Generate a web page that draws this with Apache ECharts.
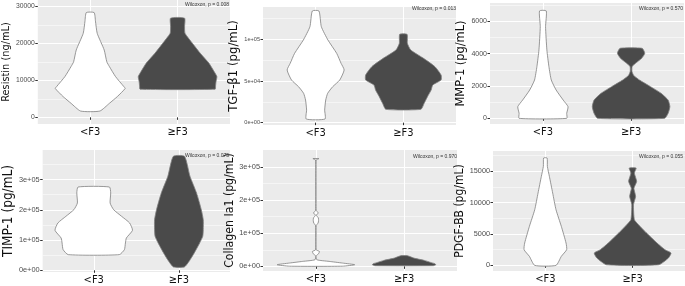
<!DOCTYPE html>
<html>
<head>
<meta charset="utf-8">
<script src="https://cdn.jsdelivr.net/npm/echarts@6/dist/echarts.min.js"></script>
<style>
  html, body { margin: 0; padding: 0; background: #fff; }
  #chart { width: 685px; height: 286px; }
</style>
</head>
<body>
<div id="chart"></div>
<script>
var groups = ["<F3", "≥F3"];

// violin outlines: [value, half width in category units]
var resistinLow = [[28300, 0.045], [26000, 0.06], [22700, 0.08], [18200, 0.16], [15000, 0.19], [13700, 0.22], [11000, 0.29], [8300, 0.385], [7800, 0.4], [5600, 0.31], [3800, 0.22], [1700, 0.11]];
var resistinHigh = [[26800, 0.08], [24500, 0.08], [22700, 0.085], [20000, 0.17], [17300, 0.26], [14600, 0.36], [12300, 0.42], [11000, 0.45], [9600, 0.44], [8500, 0.435], [7600, 0.43]];

var tgfLow = [[134000, 0.038], [115200, 0.065], [99200, 0.14], [83200, 0.24], [71200, 0.29], [63200, 0.325], [51200, 0.275], [43200, 0.195], [35200, 0.137], [27200, 0.115], [15200, 0.103], [4400, 0.107]];
var tgfHigh = [[106000, 0.042], [95200, 0.046], [87200, 0.084], [77200, 0.23], [67200, 0.36], [57200, 0.43], [51200, 0.43], [45200, 0.335], [39200, 0.317], [31200, 0.275], [23200, 0.237], [16000, 0.2]];

var mmpLow = [[6640, 0.038], [5670, 0.03], [4230, 0.045], [3200, 0.068], [2370, 0.095], [1750, 0.15], [1130, 0.23], [720, 0.285], [310, 0.27], [0, 0.27]];
var mmpHigh = [[4330, 0.125], [4020, 0.155], [3710, 0.12], [3400, 0.05], [3200, 0.012], [2900, 0.01], [2650, 0.03], [2370, 0.095], [1960, 0.22], [1550, 0.34], [1130, 0.42], [720, 0.44], [310, 0.42], [0, 0.38]];

var timpLow = [[275600, 0.184], [255800, 0.199], [222700, 0.192], [200700, 0.233], [178600, 0.327], [156600, 0.421], [132300, 0.455], [106900, 0.383], [90400, 0.372], [68400, 0.36], [51800, 0.3]];
var timpHigh = [[377000, 0.066], [311000, 0.13], [255800, 0.207], [200700, 0.263], [167600, 0.286], [134500, 0.286], [112500, 0.28], [90400, 0.244], [57300, 0.18], [29800, 0.12], [11000, 0.064]];

var collagenLow = [[325000, 0.034], [321000, 0.004], [168000, 0.004], [161000, 0.03], [155000, 0.004], [146000, 0.028], [138000, 0.03], [130000, 0.024], [124000, 0.004], [50000, 0.004], [45000, 0.04], [38000, 0.03], [32000, 0.004], [20000, 0.01], [15000, 0.15], [10000, 0.3], [5000, 0.44], [500, 0.3]];
var collagenHigh = [[32000, 0.04], [25000, 0.11], [18000, 0.23], [12000, 0.3], [8000, 0.35], [5000, 0.36], [2000, 0.33]];

var pdgfLow = [[17130, 0.02], [15800, 0.023], [14200, 0.046], [11540, 0.084], [8880, 0.122], [6220, 0.183], [3560, 0.237], [2500, 0.244], [1440, 0.183], [0, 0.122]];
var pdgfHigh = [[15530, 0.04], [14730, 0.02], [13400, 0.046], [12300, 0.015], [11000, 0.034], [9700, 0.01], [7290, 0.02], [6500, 0.067], [5160, 0.16], [3560, 0.28], [2500, 0.37], [1970, 0.44], [1170, 0.41], [100, 0.3]];

// y axis ticks
var resistinTicks = [0, 10000, 20000, 30000];
var resistinLabels = ["0", "10000", "20000", "30000"];
var tgfTicks = [0, 50000, 100000];
var tgfLabels = ["0e+00", "5e+04", "1e+05"];
var mmpTicks = [0, 2000, 4000, 6000];
var mmpLabels = ["0", "2000", "4000", "6000"];
var timpTicks = [0, 100000, 200000, 300000];
var timpLabels = ["0e+00", "1e+05", "2e+05", "3e+05"];
var collagenTicks = [0, 100000, 200000, 300000];
var collagenLabels = ["0e+00", "1e+05", "2e+05", "3e+05"];
var pdgfTicks = [0, 5000, 10000, 15000];
var pdgfLabels = ["0", "5000", "10000", "15000"];

var panels = [
  { name: "Resistin (ng/mL)", test: "Wilcoxon, p = 0.008", ticks: resistinTicks, labels: resistinLabels,
    minor: [5000, 15000, 25000], min: -1800, max: 31700, violins: [resistinLow, resistinHigh],
    grid: { left: 34, top: 0, width: 196, height: 124 }, gap: 21, nameSize: 10.9, tickSize: 6.8, tx: 229, ty: 5 },
  { name: "TGF-β1 (pg/mL)", test: "Wilcoxon, p = 0.013", ticks: tgfTicks, labels: tgfLabels,
    minor: [25000, 75000, 125000], min: -2800, max: 138800, violins: [tgfLow, tgfHigh],
    grid: { left: 263, top: 7, width: 193, height: 118 }, gap: 18.5, nameSize: 13, tickSize: 5.6, tx: 456, ty: 9 },
  { name: "MMP-1 (pg/mL)", test: "Wilcoxon, p = 0.570", ticks: mmpTicks, labels: mmpLabels,
    minor: [1000, 3000, 5000, 7000], min: -350, max: 7130, violins: [mmpLow, mmpHigh],
    grid: { left: 490, top: 3, width: 194, height: 121 }, gap: 18.7, nameSize: 12.7, tickSize: 7, tx: 683, ty: 9 },
  { name: "TIMP-1 (pg/mL)", test: "Wilcoxon, p = 0.075", ticks: timpTicks, labels: timpLabels,
    minor: [50000, 150000, 250000, 350000], min: -5600, max: 398000, violins: [timpLow, timpHigh],
    grid: { left: 35, top: 150, width: 195, height: 122 }, gap: 19.3, nameSize: 13.5, tickSize: 7.4, tx: 229, ty: 156 },
  { name: "Collagen Ia1 (pg/mL)", test: "Wilcoxon, p = 0.970", ticks: collagenTicks, labels: collagenLabels,
    minor: [50000, 150000, 250000], min: -14000, max: 351000, violins: [collagenLow, collagenHigh],
    grid: { left: 263, top: 150, width: 194, height: 121 }, gap: 17.9, nameSize: 12.2, tickSize: 7.4, tx: 457, ty: 157 },
  { name: "PDGF-BB (pg/mL)", test: "Wilcoxon, p = 0.055", ticks: pdgfTicks, labels: pdgfLabels,
    minor: [2500, 7500, 12500, 17500], min: -900, max: 18250, violins: [pdgfLow, pdgfHigh],
    grid: { left: 493, top: 151, width: 192, height: 120 }, gap: 21, nameSize: 12, tickSize: 7.3, tx: 683, ty: 157 }
];

var fills = ["#FFFFFF", "#4A4A4A"];
var font = "Liberation Sans, Arial, sans-serif";
var narrow = "'Liberation Sans Narrow', 'Arial Narrow', 'DejaVu Sans Condensed', sans-serif";

var grids = [], xAxes = [], yAxes = [], series = [], texts = [];

panels.forEach(function (p, i) {
  grids.push({
    left: p.grid.left, top: p.grid.top, width: p.grid.width, height: p.grid.height,
    show: true, backgroundColor: "#EBEBEB", borderWidth: 0
  });

  xAxes.push({
    type: "value", gridIndex: i, min: 0.4, max: 2.6,
    axisLine: { show: false },
    axisTick: { show: true, length: 2.5, customValues: [1, 2], lineStyle: { color: "#333333", width: 1 } },
    axisLabel: {
      customValues: [1, 2], margin: 3, fontSize: 11, color: "#111111", fontFamily: narrow,
      formatter: function (v) { return groups[Math.round(v) - 1]; }
    },
    splitLine: { show: true, customValues: [1, 2], lineStyle: { color: "#FFFFFF", width: 1 } }
  });

  // major axis (visible)
  yAxes.push({
    type: "value", gridIndex: i, min: p.min, max: p.max,
    name: p.name, nameLocation: "middle", nameGap: p.gap,
    nameTextStyle: { fontSize: p.nameSize, color: "#111111", fontFamily: narrow },
    axisLine: { show: false },
    axisTick: { show: true, length: 2.5, customValues: p.ticks, lineStyle: { color: "#333333", width: 1 } },
    axisLabel: {
      customValues: p.ticks, margin: 3, fontSize: p.tickSize, color: "#4D4D4D", fontFamily: font,
      formatter: function (v) { return p.labels[p.ticks.indexOf(v)]; }
    },
    splitLine: { show: true, customValues: p.ticks, lineStyle: { color: "#FFFFFF", width: 1 } }
  });

  // minor grid lines
  yAxes.push({
    type: "value", gridIndex: i, min: p.min, max: p.max, position: "left",
    axisLine: { show: false },
    axisTick: { show: false, customValues: p.minor },
    axisLabel: { show: false, customValues: p.minor },
    splitLine: { show: true, customValues: p.minor, lineStyle: { color: "#FFFFFF", width: 0.5 } }
  });

  p.violins.forEach(function (profile, g) {
    series.push({
      type: "custom",
      xAxisIndex: i,
      yAxisIndex: 2 * i,
      data: profile.map(function (d) { return [g + 1, d[0], d[1]]; }),
      z: 3,
      renderItem: function (params, api) {
        if (params.dataIndex !== 0) return;
        var right = [], left = [];
        profile.forEach(function (d) {
          right.push(api.coord([g + 1 + d[1], d[0]]));
          left.unshift(api.coord([g + 1 - d[1], d[0]]));
        });
        return {
          type: "polygon",
          shape: { points: right.concat(left), smooth: 0.18 },
          style: { fill: fills[g], stroke: "#7F7F7F", lineWidth: 0.8 }
        };
      }
    });
  });

  texts.push({
    type: "text", x: p.tx, y: p.ty, z: 10,
    style: { text: p.test, fontSize: 5, fill: "#333333", align: "right", verticalAlign: "middle", fontFamily: font }
  });
});

var chart = echarts.init(document.getElementById("chart"));
chart.setOption({
  animation: false,
  grid: grids,
  xAxis: xAxes,
  yAxis: yAxes,
  series: series,
  graphic: texts
});
</script>
</body>
</html>
